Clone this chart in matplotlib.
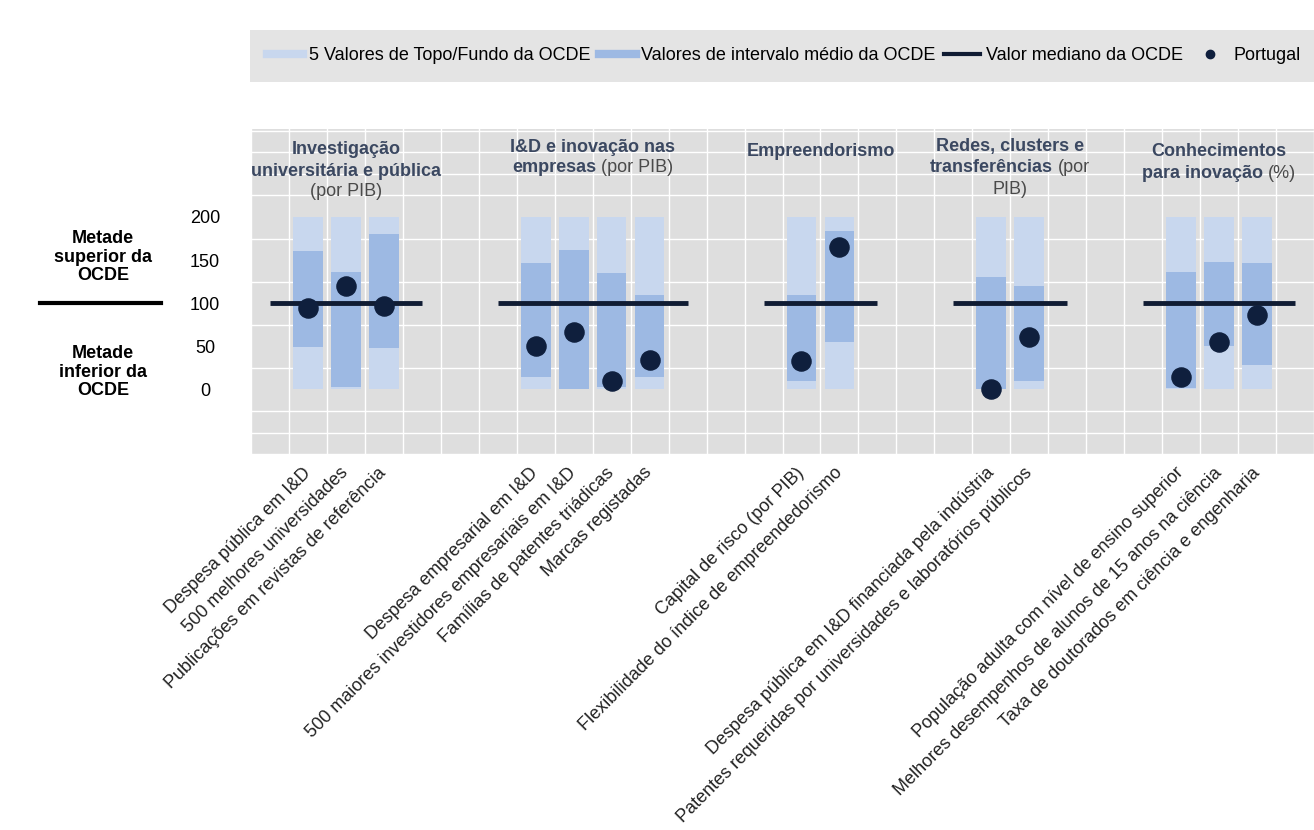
import matplotlib
matplotlib.use("Agg")
import matplotlib.pyplot as plt
from matplotlib.lines import Line2D
from matplotlib.patches import Rectangle
import numpy as np

plt.rcParams['font.family'] = ['Liberation Sans', 'DejaVu Sans']

# indicator labels, grouped by panel
groups = [
    ["Despesa pública em I&D", "500 melhores universidades",
     "Publicações em revistas de referência"],
    ["Despesa empresarial em I&D", "500 maiores investidores empresariais em I&D",
     "Famílias de patentes triádicas", "Marcas registadas"],
    ["Capital de risco (por PIB)", "Flexibilidade do índice de empreendedorismo"],
    ["Despesa pública em I&D financiada pela indústria",
     "Patentes requeridas por universidades e laboratórios públicos"],
    ["População adulta com nível de ensino superior",
     "Melhores desempenhos de alunos de 15 anos na ciência",
     "Taxa de doutorados em ciência e engenharia"],
]

# panel titles: lines made of (text, bold) pieces
panel_titles = [
    [[("Investigação", True)], [("universitária e pública", True)], [("(por PIB)", False)]],
    [[("I&D e inovação nas", True)], [("empresas", True), ("(por PIB)", False)]],
    [[("Empreendorismo", True)]],
    [[("Redes, clusters e", True)], [("transferências", True), ("(por", False)], [("PIB)", False)]],
    [[("Conhecimentos", True)], [("para inovação", True), ("(%)", False)]],
]

# values (OECD median = 100)
top_bottom_low = [0, 0, 0, 0, 0, 0, 0, 0, 0, 0, 0, 0, 0, 0]
top_bottom_high = [200, 200, 200, 200, 200, 200, 200, 200, 200, 200, 200, 200, 200, 200]
mid_low = [49, 3, 48, 14, 0, 3, 14, 10, 55, 0, 10, 2, 50, 28]
mid_high = [160, 136, 180, 147, 162, 135, 110, 110, 184, 130, 120, 136, 148, 147]
median = 100
portugal = [95, 120, 97, 50, 67, 10, 34, 33, 165, 1, 61, 14, 55, 86]

light_c = '#c8d7ee'
dark_c = '#9db9e3'
navy = '#0f1f3d'
title_c = '#3b4861'

# x positions: 3 empty slots between panels
pos = []
group_pos = []
start = 0
for g in groups:
    p = list(range(start, start + len(g)))
    group_pos.append(p)
    pos += p
    start += len(g) + 3
pos = np.array(pos)
labels = [l for g in groups for l in g]

W, H = 1314, 830
fig = plt.figure(figsize=(W / 100, H / 100), dpi=100)
ax = fig.add_axes([251 / W, 1 - 455 / H, 1 - 251 / W, (455 - 129) / H])
ax.set_facecolor('#dedede')
ax.set_xlim(-1.5, pos[-1] + 1.5)
ax.set_ylim(-76, 302)

ax.set_xticks(np.arange(-1.5, pos[-1] + 1.6, 1), minor=True)
ax.set_yticks(np.arange(-75, 301, 25), minor=True)
ax.grid(which='minor', color='white', lw=1.0)
ax.set_axisbelow(True)
for s in ax.spines.values():
    s.set_visible(False)

lo = np.array(top_bottom_low)
hi = np.array(top_bottom_high)
ax.bar(pos, hi - lo, bottom=lo, width=0.78, color=light_c, zorder=2)
ax.bar(pos, np.array(mid_high) - np.array(mid_low), bottom=mid_low, width=0.78,
       color=dark_c, zorder=3)
for p in group_pos:
    ax.hlines(median, p[0] - 1, p[-1] + 1, color='#101c33', lw=3.5, zorder=4)
ax.scatter(pos, portugal, s=190, color=navy, zorder=5)

ax.set_yticks([0, 50, 100, 150, 200])
ax.set_yticklabels(['0', '50', '100', '150', '200'], fontsize=13, ha='center')
ax.tick_params(axis='y', which='both', length=0, pad=33)
ax.set_xticks(pos)
ax.set_xticklabels(labels, rotation=45, ha='right', va='center',
                   rotation_mode='anchor', fontsize=13, color='#222222')
ax.tick_params(axis='x', which='both', length=0, pad=11)

# panel titles
renderer = fig.canvas.get_renderer()
title_top = [150, 147, 152, 147, 152]
for p, lines, ytop in zip(group_pos, panel_titles, title_top):
    xc = ax.transData.transform((np.mean(p), 0))[0]
    for k, pieces in enumerate(lines):
        ypx = ytop + 21 * k
        texts, widths = [], []
        for s, b in pieces:
            t = fig.text(0, 1 - ypx / H, s, fontsize=13,
                         fontweight='bold' if b else 'normal',
                         color=title_c if b else '#4a4a4a', ha='left', va='center')
            texts.append(t)
            widths.append(t.get_window_extent(renderer).width)
        gap = 5
        x = xc - (sum(widths) + gap * (len(pieces) - 1)) / 2
        for t, w in zip(texts, widths):
            t.set_x(x / W)
            x += w + gap

# left side labels
fig.text(103 / W, 1 - 257 / H, "Metade\nsuperior da\nOCDE", ha='center', va='center',
         fontsize=13, fontweight='bold', linespacing=1.1)
fig.text(103 / W, 1 - 372 / H, "Metade\ninferior da\nOCDE", ha='center', va='center',
         fontsize=13, fontweight='bold', linespacing=1.1)
fig.add_artist(Line2D([40 / W, 161 / W], [1 - 303 / H, 1 - 303 / H], color='black', lw=3))

# legend band
fig.add_artist(Rectangle((250 / W, 1 - 82 / H), 1 - 250 / W, 52 / H,
                         transform=fig.transFigure, facecolor='#e4e4e4', edgecolor='none'))
handles = [
    Line2D([], [], color=light_c, lw=6),
    Line2D([], [], color=dark_c, lw=6),
    Line2D([], [], color='#101c33', lw=3),
    Line2D([], [], color=navy, marker='o', ls='none', markersize=6),
]
fig.legend(handles, ["5 Valores de Topo/Fundo da OCDE", "Valores de intervalo médio da OCDE",
                     "Valor mediano da OCDE", "Portugal"],
           loc='center', bbox_to_anchor=(784 / W, 1 - 56 / H), ncol=4, frameon=False,
           fontsize=13, handlelength=2.0, handletextpad=0.3, columnspacing=0.5)

fig.savefig('out.png', dpi=100)
